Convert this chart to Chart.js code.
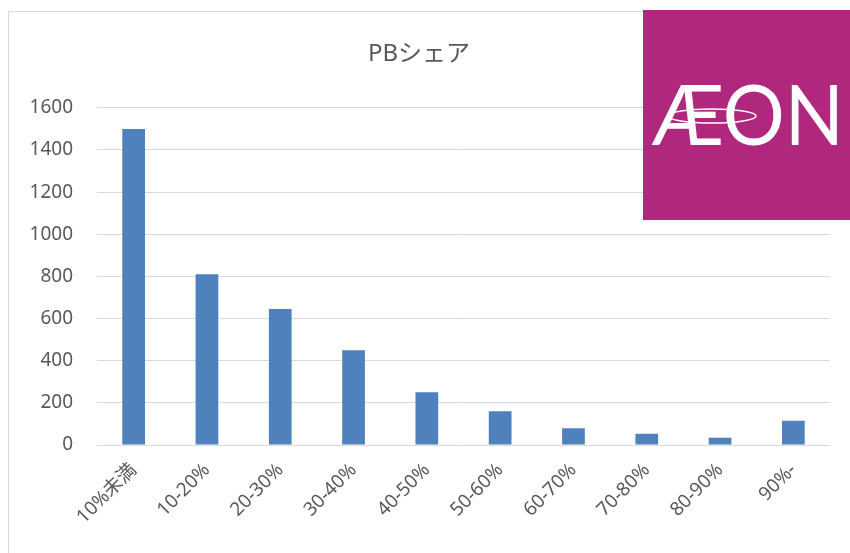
<!DOCTYPE html>
<html>
<head>
<meta charset="utf-8">
<script src="https://cdn.jsdelivr.net/npm/chart.js@4/dist/chart.umd.min.js"></script>
<style>
  html, body { margin: 0; padding: 0; background: #ffffff; }
  #wrap { width: 850px; height: 553px; position: relative; }
</style>
</head>
<body>
<div id="wrap"><canvas id="c" width="850" height="553"></canvas></div>
<script>
// ---- data ----
const chartTitle = 'PBシェア';
const categories = ['10%未満', '10-20%', '20-30%', '30-40%', '40-50%', '50-60%', '60-70%', '70-80%', '80-90%', '90%-'];
const shareCounts = [1500, 810, 645, 450, 250, 160, 80, 53, 34, 115];
const yTickValues = [0, 200, 400, 600, 800, 1000, 1200, 1400, 1600];
const logoText = 'ÆON';

const FONT = "'Noto Sans', 'Noto Sans CJK JP', sans-serif";
const TEXT_GREY = '#595959';

const framePlugin = {
  id: 'frame',
  beforeDraw(chart) {
    const ctx = chart.ctx;
    ctx.save();
    ctx.fillStyle = '#ffffff';
    ctx.fillRect(0, 0, chart.width, chart.height);
    ctx.strokeStyle = '#d9d9d9';
    ctx.lineWidth = 1;
    ctx.strokeRect(8.5, 11.5, 900, 700);
    ctx.restore();
  }
};

const logoPlugin = {
  id: 'logo',
  afterDraw(chart) {
    const ctx = chart.ctx;
    ctx.save();
    ctx.fillStyle = '#b0287d';
    ctx.fillRect(643, 10, 207, 210);
    ctx.fillStyle = '#ffffff';
    ctx.font = "normal 84px Lato, 'Noto Sans', sans-serif";
    ctx.textAlign = 'left';
    ctx.textBaseline = 'alphabetic';
    ctx.fillText(logoText, 652, 145, 192);
    ctx.strokeStyle = '#ffffff';
    ctx.lineWidth = 1.5;
    ctx.beginPath();
    ctx.ellipse(712, 116, 44, 7, 0, 0, Math.PI * 2);
    ctx.stroke();
    ctx.restore();
  }
};

new Chart(document.getElementById('c'), {
  type: 'bar',
  data: {
    labels: categories,
    datasets: [{
      label: chartTitle,
      data: shareCounts,
      backgroundColor: '#4f81bd',
      borderWidth: 0,
      categoryPercentage: 1.0,
      barPercentage: 0.31
    }]
  },
  options: {
    responsive: false,
    animation: false,
    layout: { padding: { left: 8, right: 20, top: 11, bottom: 0 } },
    plugins: {
      legend: { display: false },
      tooltip: { enabled: false },
      title: {
        display: true,
        text: chartTitle,
        color: TEXT_GREY,
        font: { family: FONT, size: 24, weight: 'normal' },
        padding: { top: 29, bottom: 39 }
      }
    },
    scales: {
      x: {
        grid: { display: false },
        border: { display: false },
        ticks: {
          color: TEXT_GREY,
          font: { family: FONT, size: 19 },
          minRotation: 45,
          maxRotation: 45,
          padding: 6
        },
        afterFit(scale) { scale.height = 108; }
      },
      y: {
        min: 0,
        max: 1600,
        afterBuildTicks(scale) { scale.ticks = yTickValues.map(v => ({ value: v })); },
        grid: { color: '#d9d9d9', lineWidth: 1, drawTicks: false },
        border: { display: false },
        ticks: {
          color: TEXT_GREY,
          font: { family: FONT, size: 19 },
          padding: 24,
          callback: (value) => String(value)
        },
        afterFit(scale) { scale.width = 89; }
      }
    }
  },
  plugins: [framePlugin, logoPlugin]
});
</script>
</body>
</html>
